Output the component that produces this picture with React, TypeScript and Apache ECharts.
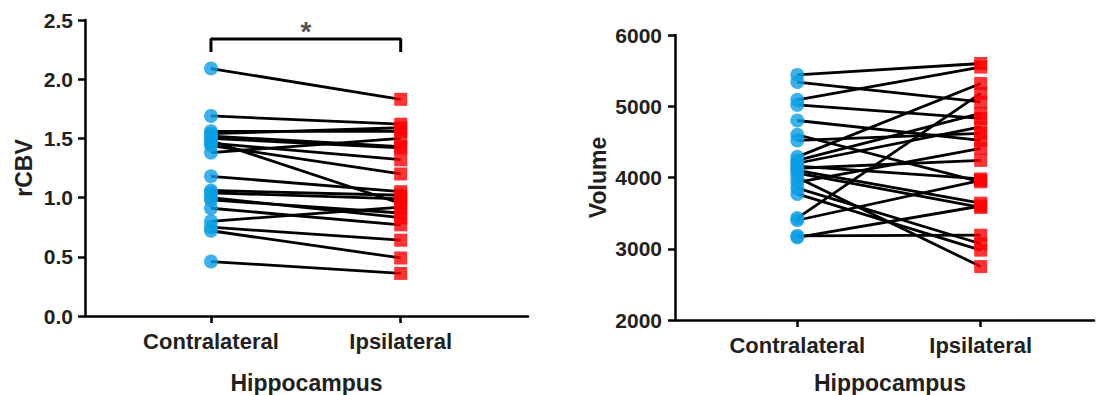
import React, { useEffect, useRef } from "react";
import * as echarts from "echarts";

const groups = ["Contralateral", "Ipsilateral"];
const xTitle = "Hippocampus";

// rCBV pairs (contralateral -> ipsilateral)
const cbvContra = [2.09, 1.69, 1.56, 1.54, 1.52, 1.5, 1.48, 1.46, 1.44, 1.38, 1.18, 1.06, 1.04, 1.0, 0.98, 0.91, 0.8, 0.75, 0.72, 0.46];
const cbvIpsi = [1.83, 1.62, 1.56, 1.59, 1.43, 1.42, 0.95, 1.32, 1.2, 1.5, 1.05, 1.02, 0.99, 0.83, 0.87, 0.77, 0.92, 0.64, 0.49, 0.36];

// Volume pairs (contralateral -> ipsilateral)
const volContra = [5440, 5340, 5090, 5020, 4800, 4600, 4520, 4290, 4240, 4200, 4160, 4130, 4100, 4060, 4000, 3930, 3850, 3770, 3430, 3400, 3180, 3160];
const volIpsi = [5600, 5060, 5550, 4830, 4520, 3940, 4620, 5320, 4900, 4710, 3980, 4240, 3640, 3580, 2750, 4410, 3070, 2980, 5180, 3960, 3190, 3600];

// significance bracket (rCBV)
const bracketY = 2.34;
const bracketFoot = 2.23;
const sigLabel = "*";

const FONT = "'Liberation Sans', Arial, Helvetica, sans-serif";
const TXT = "#231f20";
const BLUE = "#0a9fe3";
const RED = "#ff0000";

function axisCommon() {
  return {
    axisLine: { show: true, onZero: false, lineStyle: { color: "#000", width: 2.5 } },
    axisTick: { show: true, length: 7, lineStyle: { color: "#000", width: 2.5 } },
    splitLine: { show: false },
  };
}

function xAxis(gridIndex: number, min: number, max: number, nameGap: number, namePad: number) {
  return {
    type: "value",
    gridIndex,
    min,
    max,
    ...axisCommon(),
    axisTick: { show: true, length: 7, lineStyle: { color: "#000", width: 2.5 }, customValues: [0, 1] },
    axisLabel: {
      customValues: [0, 1],
      formatter: (v: number) => groups[Math.round(v)] ?? "",
      margin: 14,
      fontFamily: FONT,
      fontWeight: "bold",
      fontSize: 22,
      color: TXT,
    },
    name: xTitle,
    nameLocation: "middle",
    nameGap,
    nameTextStyle: { fontFamily: FONT, fontWeight: "bold", fontSize: 23, color: TXT, padding: [0, 0, 0, namePad] },
  };
}

function pairSeries(contra: number[], ipsi: number[], idx: number) {
  const out: any[] = contra.map((c, i) => ({
    type: "line",
    xAxisIndex: idx,
    yAxisIndex: idx,
    data: [
      [0, c],
      [1, ipsi[i]],
    ],
    symbol: "none",
    silent: true,
    z: 2,
    lineStyle: { color: "#000", width: 2.8 },
  }));
  out.push({
    type: "scatter",
    xAxisIndex: idx,
    yAxisIndex: idx,
    data: contra.map((c) => [0, c]),
    symbol: "circle",
    symbolSize: 14,
    z: 3,
    itemStyle: { color: BLUE },
  });
  out.push({
    type: "scatter",
    xAxisIndex: idx,
    yAxisIndex: idx,
    data: ipsi.map((c) => [1, c]),
    symbol: "rect",
    symbolSize: 13,
    z: 3,
    itemStyle: { color: RED },
  });
  return out;
}

export default function App() {
  const ref = useRef<HTMLDivElement>(null);
  useEffect(() => {
    if (!ref.current) return;
    const chart = echarts.init(ref.current, undefined, { renderer: "svg" });
    const yLabel = { fontFamily: FONT, fontWeight: "bold", fontSize: 21, color: TXT };
    const option: any = {
      animation: false,
      backgroundColor: "#fff",
      grid: [
        { left: 85, top: 20, width: 443, height: 296, outerBoundsMode: "none", containLabel: false },
        { left: 675, top: 35, width: 419, height: 285, outerBoundsMode: "none", containLabel: false },
      ],
      xAxis: [xAxis(0, -0.664, 1.671, 55, 0), xAxis(1, -0.667, 1.618, 51, 11)],
      yAxis: [
        {
          type: "value",
          gridIndex: 0,
          min: 0,
          max: 2.5,
          interval: 0.5,
          ...axisCommon(),
          axisLabel: { ...yLabel, margin: 12, formatter: (v: number) => v.toFixed(1) },
          name: "rCBV",
          nameLocation: "middle",
          nameGap: 50,
          nameTextStyle: { fontFamily: FONT, fontWeight: "bold", fontSize: 23, color: TXT },
        },
        {
          type: "value",
          gridIndex: 1,
          min: 2000,
          max: 6000,
          interval: 1000,
          ...axisCommon(),
          axisLabel: { ...yLabel, margin: 13, formatter: (v: number) => String(v) },
          name: "Volume",
          nameLocation: "middle",
          nameGap: 66,
          nameTextStyle: { fontFamily: FONT, fontWeight: "bold", fontSize: 23, color: TXT },
        },
      ],
      series: [
        ...pairSeries(cbvContra, cbvIpsi, 0),
        ...pairSeries(volContra, volIpsi, 1),
        {
          type: "line",
          xAxisIndex: 0,
          yAxisIndex: 0,
          data: [
            [0, bracketFoot],
            [0, bracketY],
            [1, bracketY],
            [1, bracketFoot],
          ],
          symbol: "none",
          silent: true,
          lineStyle: { color: "#000", width: 3 },
        },
        {
          type: "scatter",
          xAxisIndex: 0,
          yAxisIndex: 0,
          data: [[0.5, bracketY]],
          symbolSize: 1,
          itemStyle: { color: "rgba(0,0,0,0)" },
          silent: true,
          label: {
            show: true,
            position: "inside",
            formatter: sigLabel,
            offset: [0, -7],
            fontFamily: FONT,
            fontWeight: "bold",
            fontSize: 28,
            color: TXT,
          },
        },
      ],
    };
    chart.setOption(option);
    return () => chart.dispose();
  }, []);
  return <div ref={ref} style={{ position: "fixed", left: 0, top: 0, width: 1096, height: 395 }} />;
}
